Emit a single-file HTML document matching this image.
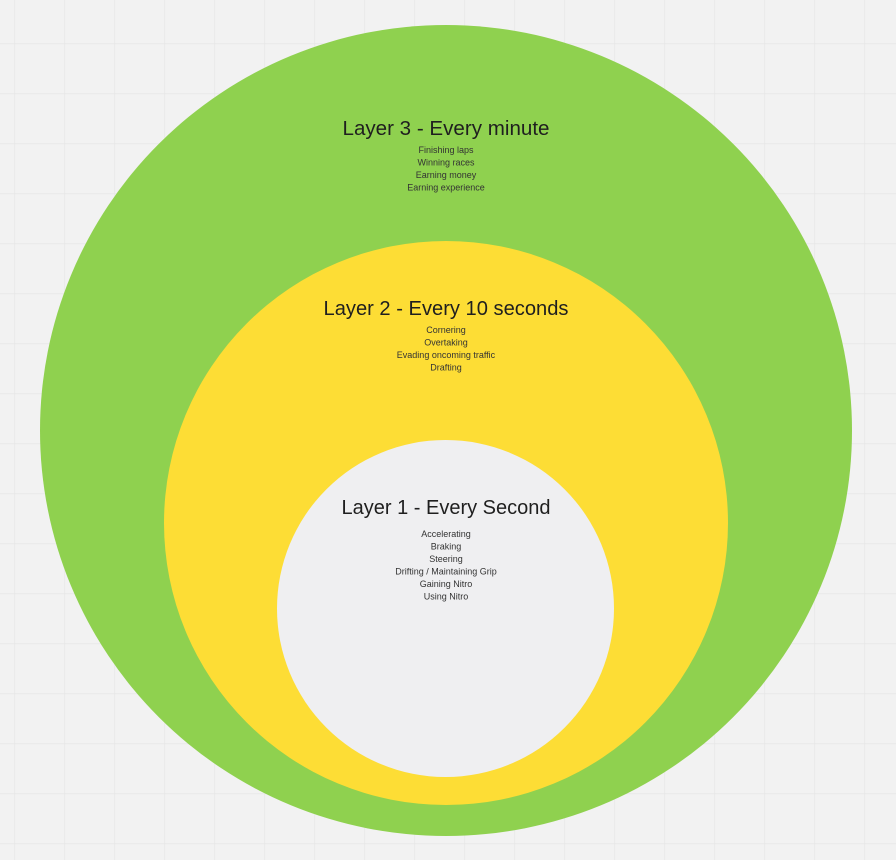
<!DOCTYPE html>
<html><head><meta charset="utf-8"><style>
html,body{margin:0;padding:0;background:#f2f2f2;}
svg{display:block;}
text{font-family:"Liberation Sans",sans-serif;fill:#1f1f1f;}
.s{font-size:9px;fill:#333;}
</style></head><body>
<svg width="896" height="860" viewBox="0 0 896 860" xmlns="http://www.w3.org/2000/svg">
<defs>
<pattern id="g" x="14.5" y="43.5" width="50" height="50" patternUnits="userSpaceOnUse">
<path d="M0 0H50M0 0V50" stroke="#e4e4e4" stroke-width="1.2" fill="none"/>
</pattern>
</defs>
<rect width="896" height="860" fill="#f2f2f2"/>
<rect width="896" height="860" fill="url(#g)"/>
<ellipse cx="446" cy="430.5" rx="406" ry="405.5" fill="#8fd14f"/>
<circle cx="446" cy="523" r="282" fill="#fddd35"/>
<circle cx="445.5" cy="608.5" r="168.5" fill="#efeff1"/>
<g text-anchor="middle">
<text x="446" y="135" font-size="20" textLength="207" lengthAdjust="spacingAndGlyphs">Layer 3 - Every minute</text>
<text class="s" x="446" y="153">Finishing laps</text>
<text class="s" x="446" y="165.5">Winning races</text>
<text class="s" x="446" y="178">Earning money</text>
<text class="s" x="446" y="190.5">Earning experience</text>
<text x="446" y="315" font-size="20" textLength="245" lengthAdjust="spacingAndGlyphs">Layer 2 - Every 10 seconds</text>
<text class="s" x="446" y="333">Cornering</text>
<text class="s" x="446" y="345.5">Overtaking</text>
<text class="s" x="446" y="358">Evading oncoming traffic</text>
<text class="s" x="446" y="370.5">Drafting</text>
<text x="446" y="514" font-size="20" textLength="209" lengthAdjust="spacingAndGlyphs">Layer 1 - Every Second</text>
<text class="s" x="446" y="537">Accelerating</text>
<text class="s" x="446" y="549.5">Braking</text>
<text class="s" x="446" y="562">Steering</text>
<text class="s" x="446" y="574.5">Drifting / Maintaining Grip</text>
<text class="s" x="446" y="587">Gaining Nitro</text>
<text class="s" x="446" y="599.5">Using Nitro</text>
</g>
</svg>
</body></html>
